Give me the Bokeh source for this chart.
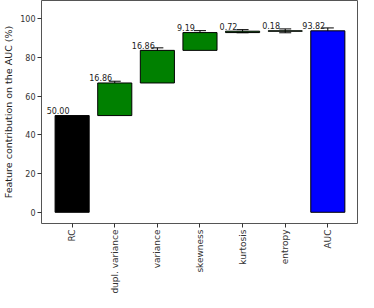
import numpy as np
from bokeh.plotting import figure
from bokeh.models import ColumnDataSource, Whisker, FixedTicker, Range1d, TeeHead
from bokeh.core.properties import value
from bokeh.embed import file_html
from bokeh.resources import INLINE

categories = ["RC", "dupl. variance", "variance", "skewness", "kurtosis", "entropy", "AUC"]
contrib = [50.00, 16.86, 16.86, 9.19, 0.72, 0.18, 93.82]
errors = [0.0, 0.9, 1.3, 1.0, 0.8, 1.0, 1.5]
colors = ["black", "green", "green", "green", "green", "green", "blue"]
yticks = [0, 20, 40, 60, 80, 100]

n = len(categories)
x = list(range(n))
bottoms = []
tops = []
acc = 0.0
for i, v in enumerate(contrib):
    if i == 0 or i == n - 1:
        bottoms.append(0.0)
        tops.append(v)
        acc = v if i == 0 else acc
    else:
        bottoms.append(acc)
        acc += v
        tops.append(acc)

labels = ["%.2f" % v for v in contrib]

src = ColumnDataSource(dict(x=x, bottom=bottoms, top=tops, color=colors,
                            label=labels, lx=[i - 0.33 for i in x],
                            ly=[t + 0.8 for t in tops]))
esrc = ColumnDataSource(dict(x=x[1:], upper=[t + e for t, e in zip(tops[1:], errors[1:])],
                             lower=[t - e for t, e in zip(tops[1:], errors[1:])]))

p = figure(width=358, height=296, output_backend="svg", toolbar_location=None,
           x_range=Range1d(-0.719, 6.72), y_range=Range1d(-5.8, 109.5),
           min_border_left=0, min_border_right=0, min_border_top=0, min_border_bottom=0)

p.vbar(x="x", bottom="bottom", top="top", width=0.8, fill_color="color",
       line_color="black", line_width=1, source=src)

w = Whisker(base="x", upper="upper", lower="lower", source=esrc,
            line_color="black", line_width=1,
            upper_head=TeeHead(size=12, line_color="black", line_width=1),
            lower_head=TeeHead(size=12, line_color="black", line_width=1))
p.add_layout(w)

p.text(x="lx", y="ly", text="label", source=src, text_align="center",
       text_baseline="bottom", text_font_size="8px", text_color="#222222",
       text_font=value("DejaVu Sans"))

p.xgrid.visible = False
p.ygrid.visible = False
p.outline_line_color = "#555555"
p.outline_line_width = 1

p.xaxis.ticker = FixedTicker(ticks=x)
p.xaxis.major_label_overrides = {i: c for i, c in enumerate(categories)}
p.xaxis.major_label_orientation = np.pi / 2
p.xaxis.major_label_text_font_size = "9px"
p.xaxis.major_label_text_font = "DejaVu Sans"
p.xaxis.major_label_text_color = "#333333"
p.xaxis.axis_line_color = None
p.xaxis.minor_tick_line_color = None
p.xaxis.major_tick_in = 0
p.xaxis.major_tick_out = 4
p.xaxis.major_tick_line_color = "#333333"
p.xaxis.major_label_standoff = 2

p.yaxis.ticker = FixedTicker(ticks=yticks)
p.yaxis.axis_label = "Feature contribution on the AUC (%)"
p.yaxis.axis_label_text_font_size = "9.5px"
p.yaxis.axis_label_text_font_style = "normal"
p.yaxis.axis_label_text_font = "DejaVu Sans"
p.yaxis.axis_label_text_color = "#222222"
p.yaxis.axis_label_standoff = 3
p.yaxis.major_label_text_font_size = "8px"
p.yaxis.major_label_text_font = "DejaVu Sans"
p.yaxis.major_label_text_color = "#333333"
p.yaxis.axis_line_color = None
p.yaxis.minor_tick_line_color = None
p.yaxis.major_tick_in = 0
p.yaxis.major_tick_out = 4
p.yaxis.major_tick_line_color = "#333333"
p.yaxis.major_label_standoff = 2

open("out.html", "w").write(file_html(p, INLINE))
